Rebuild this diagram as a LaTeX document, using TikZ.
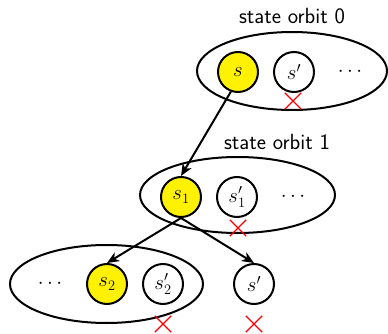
\documentclass[tikz,border=0pt]{standalone}
\usetikzlibrary{arrows.meta,shapes.geometric,shapes.misc}
\begin{document}
\begin{tikzpicture}[x=1pt,y=-1pt,
  every node/.style={font=\fontsize{22}{26}\selectfont},
  orbit/.style={draw,line width=2pt,ellipse,inner sep=0pt},
  st/.style={draw,line width=2pt,circle,minimum size=40pt,inner sep=0pt,fill=white},
  chosen/.style={st,fill=yellow},
  label/.style={font=\fontsize{22}{26}\selectfont\sffamily},
  dots/.style={inner sep=0pt},
  reject/.style={draw=red,cross out,line width=1.4pt,minimum size=15pt,inner sep=0pt},
  link/.style={line width=2pt,-{Stealth[length=12pt,width=10pt,inset=3.5pt]}}]
\useasboundingbox (0,0) rectangle (388,334);

% orbit 0
\node[label] (l0) at (292,16) {state orbit 0};
\node[orbit,minimum width=190pt,minimum height=78pt] (o0) at (292,71) {};
\node[chosen] (s) at (238,72) {$s$};
\node[st] (sp) at (294,72) {$s'$};
\node[dots] (d0) at (350,72) {$\cdots$};
\node[reject] (x0) at (293,101) {};

% orbit 1
\node[label] (l1) at (277,142) {state orbit 1};
\node[orbit,minimum width=195pt,minimum height=76pt] (o1) at (237.5,195) {};
\node[chosen] (s1) at (181,197) {$s_1$};
\node[st] (s1p) at (237,197) {$s'_1$};
\node[dots] (d1) at (293,197) {$\cdots$};
\node[reject] (x1) at (238,228) {};

% orbit 2 and the lone successor
\node[orbit,minimum width=193pt,minimum height=78pt] (o2) at (106.5,284) {};
\node[dots] (d2) at (50,284) {$\cdots$};
\node[chosen] (s2) at (107,284) {$s_2$};
\node[st] (s2p) at (163,284) {$s'_2$};
\node[st] (sq) at (254,284) {$s'$};
\node[reject] (x2) at (163,324) {};
\node[reject] (x3) at (254,324) {};

% transitions
\draw[link] (s.250) -- (s1.north);
\draw[link] (s1.south) -- (s2.north);
\draw[link] (s1.south) -- (sq.north);
\end{tikzpicture}
\end{document}
